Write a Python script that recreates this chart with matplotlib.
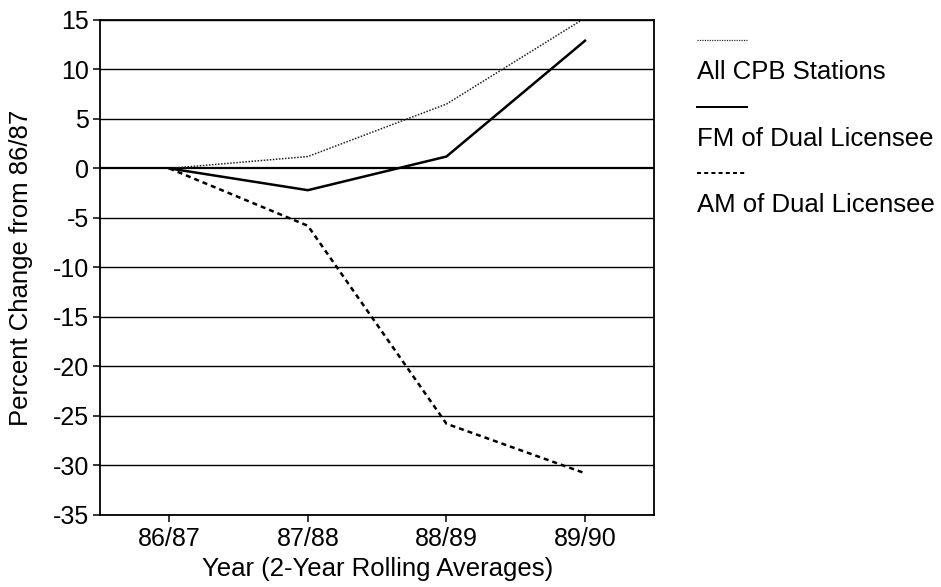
import matplotlib
matplotlib.use("Agg")
import matplotlib.pyplot as plt
from matplotlib.lines import Line2D

plt.rcParams['font.family'] = ['Liberation Sans', 'DejaVu Sans']

years = ["86/87", "87/88", "88/89", "89/90"]
all_cpb = [0, 1.2, 6.5, 15.2]
fm_dual = [0, -2.2, 1.2, 12.9]
am_dual = [0, -5.8, -25.8, -30.8]
y_ticks = [15, 10, 5, 0, -5, -10, -15, -20, -25, -30, -35]
series_names = ["All CPB Stations", "FM of Dual Licensee", "AM of Dual Licensee"]

fig = plt.figure(figsize=(9.41, 5.87), dpi=100)
ax = fig.add_axes([0.1063, 0.123, 0.589, 0.843])

x = list(range(len(years)))
styles = [
    dict(color='#222222', lw=1.1, ls=(0, (1, 1))),
    dict(color='black', lw=1.8, ls='-'),
    dict(color='black', lw=1.8, ls=(0, (2, 1.6))),
]
for vals, st in zip([all_cpb, fm_dual, am_dual], styles):
    ax.plot(x, vals, color=st['color'], lw=st['lw'], linestyle=st['ls'], zorder=3)

ax.set_xlim(-0.5, 3.5)
ax.set_ylim(-35, 15)
ax.set_yticks(y_ticks)
ax.set_yticklabels([str(v) for v in y_ticks])
ax.set_xticks(x)
ax.set_xticklabels(years)
for v in y_ticks:
    ax.axhline(v, color='black', lw=1.0 if v != 0 else 1.6, zorder=1)

for s in ax.spines.values():
    s.set_linewidth(1.3)
ax.tick_params(axis='both', direction='out', length=5, width=1.1, labelsize=18)
ax.tick_params(axis='y', pad=3)
ax.tick_params(axis='x', pad=4)
ax.set_ylabel("Percent Change from 86/87", fontsize=18.5, labelpad=14)
ax.set_xlabel("Year (2-Year Rolling Averages)", fontsize=18.5, labelpad=4)

# Legend (manual layout: sample line above each label)
line_y = [40, 107, 173]
text_y = [72, 139, 205]
W, H = 941, 587
for name, st, ly, ty in zip(series_names, styles, line_y, text_y):
    fig.add_artist(Line2D([697 / W, 747 / W], [1 - ly / H, 1 - ly / H],
                          color=st['color'], lw=st['lw'] * 0.8, linestyle=st['ls']))
    fig.text(697 / W, 1 - ty / H, name, fontsize=18.5, va='center', ha='left')

fig.savefig("out.png", dpi=100)
